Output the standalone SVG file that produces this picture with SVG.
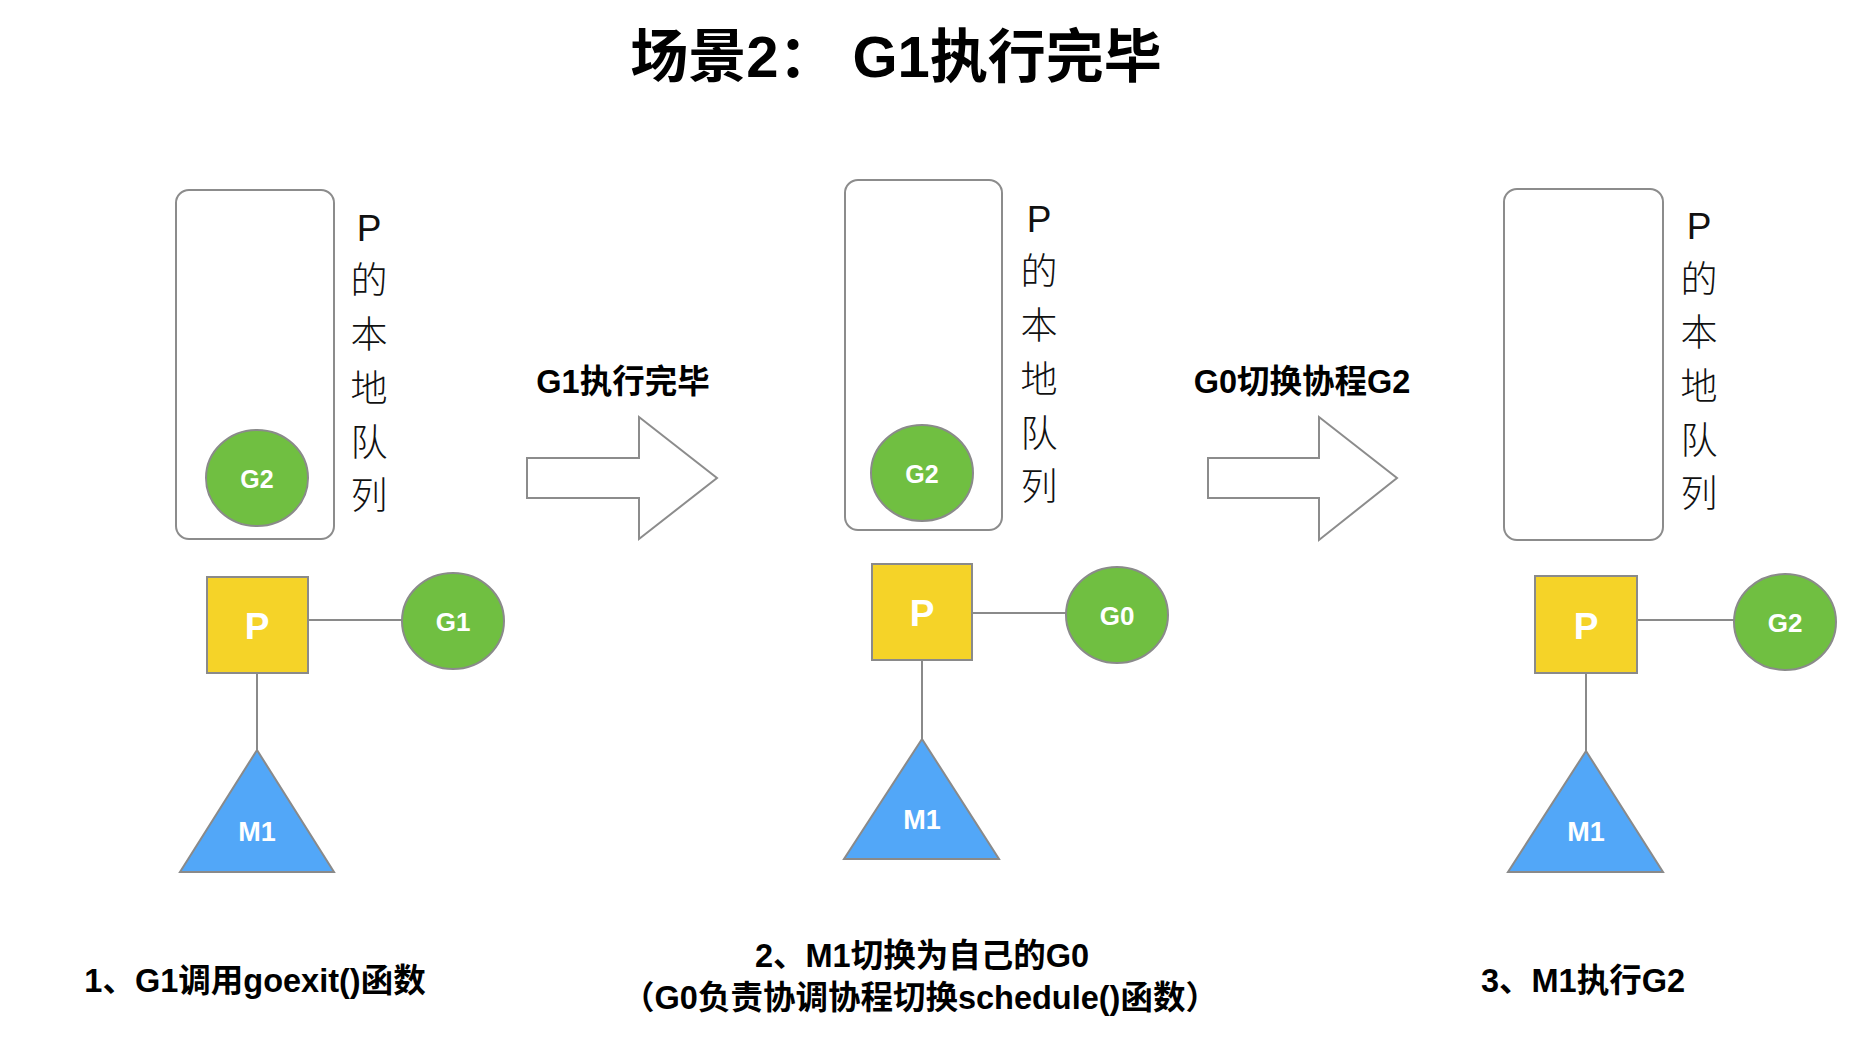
<svg xmlns="http://www.w3.org/2000/svg" width="1872" height="1058" viewBox="0 0 1872 1058">
<style>
.bg{fill:#ffffff}
.queue{fill:#ffffff;stroke:#8c8c8c;stroke-width:2}
.g{fill:#70bf41;stroke:#8a8a8a;stroke-width:2}
.p{fill:#f5d328;stroke:#8a8a8a;stroke-width:2}
.m{fill:#52a7f8;stroke:#8a8a8a;stroke-width:2}
.link{stroke:#8a8a8a;stroke-width:2;fill:none}
.arrow{fill:#ffffff;stroke:#8c8c8c;stroke-width:2}
.nt{font-family:"Liberation Sans","Noto Sans CJK SC",sans-serif;font-weight:bold;fill:#ffffff;text-anchor:middle;dominant-baseline:central}
.vt{font-family:"Liberation Sans","Noto Sans CJK SC",sans-serif;font-weight:300;font-size:37px;fill:#111;text-anchor:middle;dominant-baseline:central}
.lbl{font-family:"Liberation Sans","Noto Sans CJK SC",sans-serif;font-weight:bold;font-size:32.5px;fill:#000;text-anchor:middle;dominant-baseline:central}
.title{font-family:"Liberation Sans","Noto Sans CJK SC",sans-serif;font-weight:bold;font-size:58px;fill:#000;text-anchor:middle;dominant-baseline:central}
</style>
<rect class="bg" x="0" y="0" width="1872" height="1058"/>
<text id="title" class="title" x="896" y="56">场景2： G1执行完毕</text>

<g id="connectors">
  <line class="link" x1="308" y1="620" x2="402" y2="620"/>
  <line class="link" x1="257" y1="673" x2="257" y2="750"/>
  <line class="link" x1="972" y1="613" x2="1066" y2="613"/>
  <line class="link" x1="922" y1="660" x2="922" y2="739"/>
  <line class="link" x1="1637" y1="620" x2="1734" y2="620"/>
  <line class="link" x1="1586" y1="673" x2="1586" y2="751"/>
</g>

<!-- Panel 1 -->
<g id="queue1">
  <rect class="queue" x="176" y="190" width="158" height="349" rx="13"/>
  <text class="vt" x="369"><tspan x="369" y="228">P</tspan><tspan x="369" y="281">的</tspan><tspan x="369" y="335">本</tspan><tspan x="369" y="389">地</tspan><tspan x="369" y="443">队</tspan><tspan x="369" y="496">列</tspan></text>
</g>
<g id="p1g2"><ellipse class="g" cx="257" cy="478" rx="51" ry="48"/><text class="nt" x="257" y="479" font-size="25">G2</text></g>
<g id="p1P"><rect class="p" x="207" y="577" width="101" height="96"/><text class="nt" x="257" y="626" font-size="37">P</text></g>
<g id="p1g1"><ellipse class="g" cx="453" cy="621" rx="51" ry="48"/><text class="nt" x="453" y="622" font-size="26">G1</text></g>
<g id="p1m1"><polygon class="m" points="257,750 334,872 180,872"/><text class="nt" x="257" y="832" font-size="27">M1</text></g>
<text id="cap1" class="lbl" x="255" y="981">1、G1调用goexit()函数</text>

<!-- Arrow 1 -->
<g id="arrow1">
  <polygon class="arrow" points="527,458 639,458 639,417 717,478 639,539 639,498 527,498"/>
  <text class="lbl" x="623" y="382">G1执行完毕</text>
</g>

<!-- Panel 2 -->
<g id="queue2">
  <rect class="queue" x="845" y="180" width="157" height="350" rx="13"/>
  <text class="vt" x="1039"><tspan x="1039" y="219">P</tspan><tspan x="1039" y="272">的</tspan><tspan x="1039" y="326">本</tspan><tspan x="1039" y="380">地</tspan><tspan x="1039" y="434">队</tspan><tspan x="1039" y="487">列</tspan></text>
</g>
<g id="p2g2"><ellipse class="g" cx="922" cy="473" rx="51" ry="48"/><text class="nt" x="922" y="474" font-size="25">G2</text></g>
<g id="p2P"><rect class="p" x="872" y="564" width="100" height="96"/><text class="nt" x="922" y="613" font-size="37">P</text></g>
<g id="p2g0"><ellipse class="g" cx="1117" cy="615" rx="51" ry="48"/><text class="nt" x="1117" y="616" font-size="26">G0</text></g>
<g id="p2m1"><polygon class="m" points="922,739 999,859 844,859"/><text class="nt" x="922" y="820" font-size="27">M1</text></g>
<text id="cap2" class="lbl" x="922" y="956">2、M1切换为自己的G0</text>
<text id="cap2b" class="lbl" x="920" y="998">（G0负责协调协程切换schedule()函数）</text>

<!-- Arrow 2 -->
<g id="arrow2">
  <polygon class="arrow" points="1208,458 1319,458 1319,417 1397,478 1319,540 1319,498 1208,498"/>
  <text class="lbl" x="1302" y="382">G0切换协程G2</text>
</g>

<!-- Panel 3 -->
<g id="queue3">
  <rect class="queue" x="1504" y="189" width="159" height="351" rx="13"/>
  <text class="vt" x="1699"><tspan x="1699" y="226">P</tspan><tspan x="1699" y="280">的</tspan><tspan x="1699" y="333">本</tspan><tspan x="1699" y="387">地</tspan><tspan x="1699" y="441">队</tspan><tspan x="1699" y="494">列</tspan></text>
</g>
<g id="p3P"><rect class="p" x="1535" y="576" width="102" height="97"/><text class="nt" x="1586" y="626" font-size="37">P</text></g>
<g id="p3g2"><ellipse class="g" cx="1785" cy="622" rx="51" ry="48"/><text class="nt" x="1785" y="623" font-size="26">G2</text></g>
<g id="p3m1"><polygon class="m" points="1586,751 1663,872 1508,872"/><text class="nt" x="1586" y="832" font-size="27">M1</text></g>
<text id="cap3" class="lbl" x="1583" y="981">3、M1执行G2</text>
</svg>
